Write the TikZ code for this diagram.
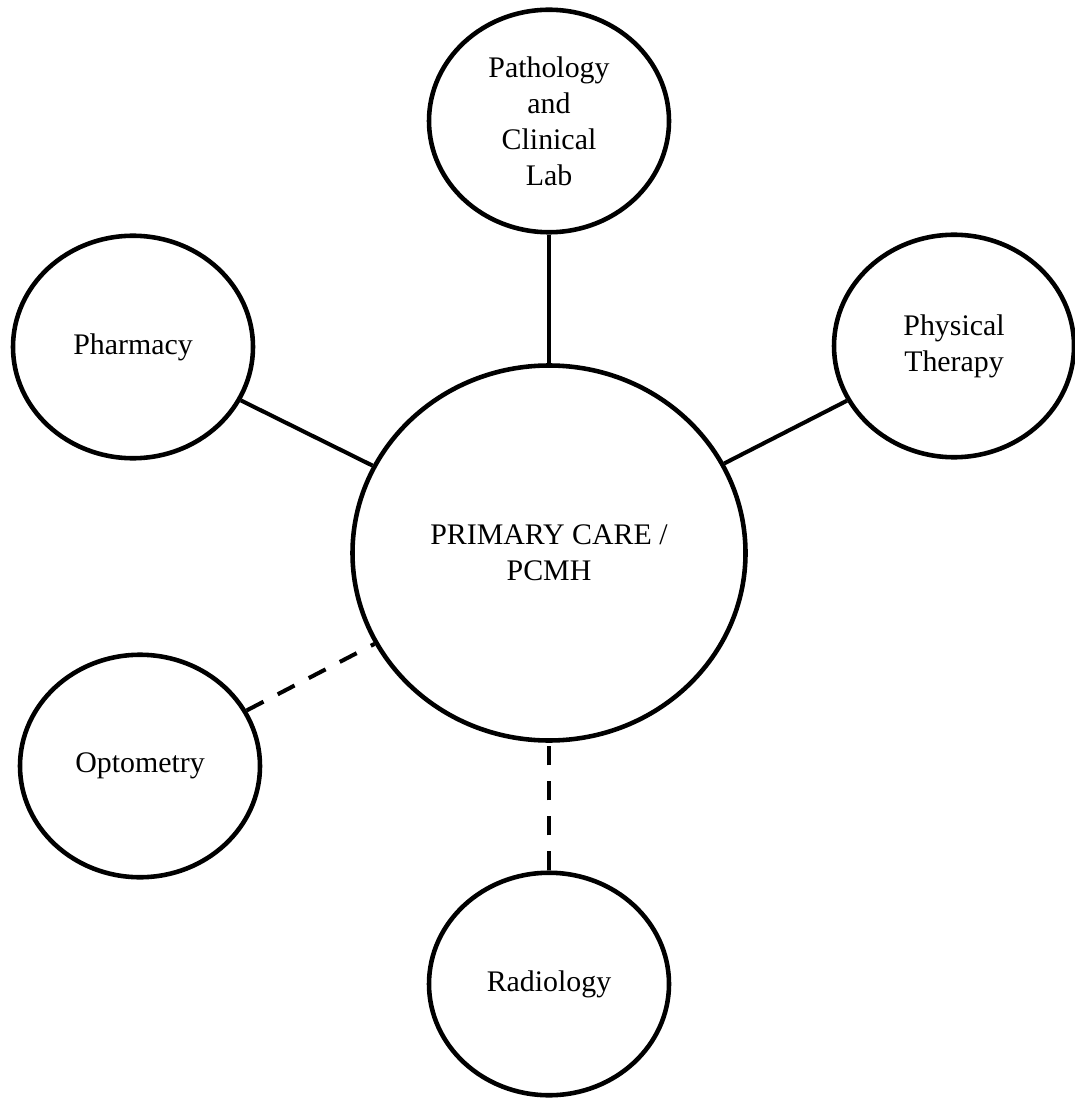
\documentclass[tikz,border=0pt]{standalone}
\usepackage{fontspec}
\setmainfont{Liberation Serif}
\usepackage{tikz}
\usetikzlibrary{shapes}
\usetikzlibrary{shapes.geometric}
\usetikzlibrary{arrows}
\tikzstyle{service}=[
        draw,
        ellipse,
        line width=2.6pt,
        minimum width=4.8cm,
        minimum height=4.45cm,
        align=center,
        font=\fontsize{17}{20.5}\selectfont
]
\tikzstyle{hub}=[service,minimum width=7.86cm,minimum height=7.5cm]
\tikzstyle{link}=[line width=2.3pt]
\tikzstyle{weaklink}=[line width=2.3pt,dash pattern=on 0.38cm off 0.32cm]
\begin{document}
\begin{tikzpicture}
\useasboundingbox (0,0) rectangle (21.48,-21.98);
\node[hub] (pc) at (10.98,-11.06) {PRIMARY CARE /\\PCMH};
\node[service] (lab) at (10.98,-2.42) {Pathology\\and\\Clinical\\Lab};
\node[service] (pharm) at (2.66,-6.94) {Pharmacy};
\node[service] (pt) at (19.08,-6.92) {Physical\\Therapy};
\node[service] (opto) at (2.8,-15.32) {Optometry};
\node[service] (radio) at (10.98,-19.68) {Radiology};
%connections
\draw[link] (pc) -- (lab);
\draw[link] (pc) -- (pharm);
\draw[link] (pc) -- (pt);
\draw[weaklink] (opto) -- (pc);
\draw[weaklink] (radio) -- (pc);
\end{tikzpicture}
\end{document}
